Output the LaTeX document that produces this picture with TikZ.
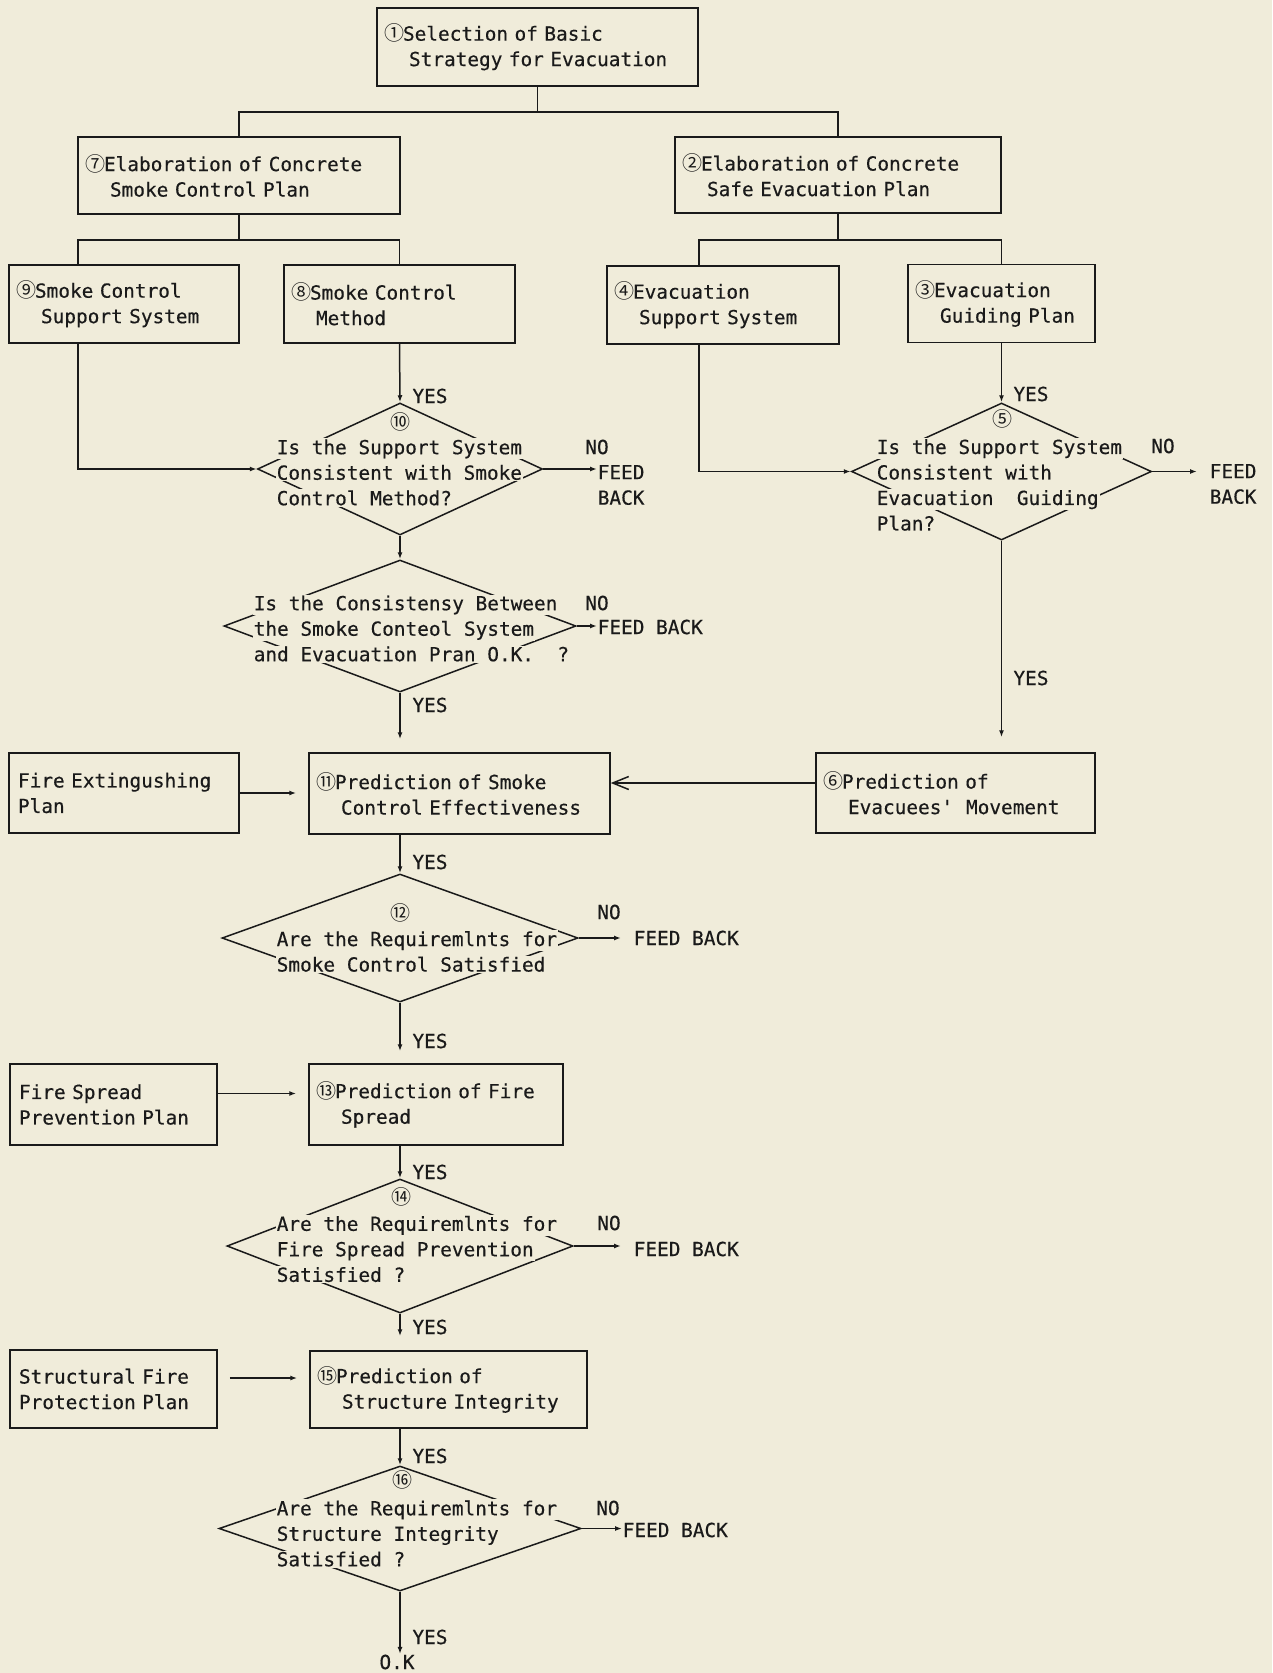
\documentclass[tikz,border=0pt]{standalone}
\usepackage{fontspec}
\setmonofont[FakeBold=0.4]{DejaVu Sans Mono}
\newfontfamily\circfont{Noto Sans CJK JP}
\usepackage{tikz}
\usetikzlibrary{shapes.geometric, arrows.meta}
\definecolor{Paper}{HTML}{F0ECDA}
\definecolor{Ink}{HTML}{1A1A1A}
\newcommand{\circnum}[1]{\makebox[17pt][c]{\circfont\fontsize{20pt}{20pt}\selectfont #1}}
\newcommand{\twosp}{\hspace*{23pt}}
\newcommand{\qline}[1]{{\fboxsep=1pt\colorbox{Paper}{#1}}}

\begin{document}
\begin{tikzpicture}[x=1pt, y=-1pt, line width=1.5pt, color=Ink,
    every node/.style={font=\ttfamily\fontsize{19.4pt}{25.5pt}\selectfont},
    box/.style={draw, rectangle, align=left, inner xsep=9pt, inner ysep=0pt},
    dia/.style={draw, diamond, inner sep=0pt},
    qtext/.style={anchor=west, align=left, inner sep=0pt},
    circ/.style={font=\circfont\fontsize{20pt}{20pt}\selectfont, inner sep=0pt},
    lbl/.style={inner sep=0pt},
    arr/.style={-{Latex[length=7pt,width=5pt]}},
    back/.style={-{Straight Barb[length=16pt,width=13pt]}}]

    % Paper
    \fill[Paper] (0,0) rectangle (1272,1673);
    \useasboundingbox (0,0) rectangle (1272,1673);

    % Planning boxes
    \node[box, text width=303pt, minimum height=78pt] (b1) at (537.5,47) {\circnum{①}Selection of Basic\\\twosp Strategy for Evacuation};
    \node[box, text width=304pt, minimum height=77pt] (b7) at (239,175.5) {\circnum{⑦}Elaboration of Concrete\\\twosp Smoke Control Plan};
    \node[box, text width=308pt, minimum height=76pt] (b2) at (838,175) {\circnum{②}Elaboration of Concrete\\\twosp Safe Evacuation Plan};
    \node[box, text width=212pt, minimum height=78pt] (b9) at (124,304) {\circnum{⑨}Smoke Control\\\twosp Support System};
    \node[box, text width=213pt, minimum height=78pt] (b8) at (399.5,304) {\circnum{⑧}Smoke Control\\\twosp Method};
    \node[box, text width=214pt, minimum height=78pt] (b4) at (723,305) {\circnum{④}Evacuation\\\twosp Support System};
    \node[box, text width=169pt, minimum height=78pt] (b3) at (1001.5,303.5) {\circnum{③}Evacuation\\\twosp Guiding Plan};

    % Tree lines
    \coordinate (j1) at (537.5,112);
    \coordinate (j7) at (239,240);
    \coordinate (j2) at (838,240);
    \draw (b1.south) -- (j1);
    \draw (b7.north) |- (j1) -| (b2.north);
    \draw (b7.south) -- (j7);
    \draw ([xshift=-46pt]b9.north) |- (j7) -| (b8.north);
    \draw (b2.south) -- (j2);
    \draw ([xshift=-24pt]b4.north) |- (j2) -| (b3.north);

    % Consistency checks
    \node[dia, minimum width=285pt, minimum height=132pt] (d10) at (400,469) {};
    \node[dia, minimum width=352pt, minimum height=132pt] (dcs) at (400,626) {};
    \node[dia, minimum width=300pt, minimum height=137pt] (d5) at (1001.5,471.5) {};
    \node[qtext] (q10) at (275,472.5) {\qline{Is the Support System}\\\qline{Consistent with Smoke}\\\qline{Control Method?}};
    \node[qtext] (qcs) at (252,628.5) {\qline{Is the Consistensy Between}\\\qline{the Smoke Conteol System}\\\qline{and Evacuation Pran O.K.~~?}};
    \node[qtext] (q5) at (875,485) {\qline{Is the Support System}\\\qline{Consistent with}\\\qline{Evacuation~~Guiding}\\\qline{Plan?}};
    \node[circ] (n10) at (400,422) {⑩};
    \node[circ] (n5) at (1002,419) {⑤};

    \draw[arr] (b8.south) -- (d10.north);
    \draw[arr] ([xshift=-46pt]b9.south) |- (d10.west);
    \draw[arr] (b3.south) -- (d5.north);
    \draw[arr] ([xshift=-24pt]b4.south) |- (d5.west);
    \draw[arr] (d10.south) -- (dcs.north);

    % Predictions
    \node[box, text width=212pt, minimum height=80pt] (bfe) at (124,793) {Fire Extingushing\\Plan};
    \node[box, text width=283pt, minimum height=81pt] (b11) at (459.5,793.5) {\circnum{⑪}Prediction of Smoke\\\twosp Control Effectiveness};
    \node[box, text width=261pt, minimum height=80pt] (b6) at (955.5,793) {\circnum{⑥}Prediction of\\\twosp Evacuees'~~Movement};
    \node[box, text width=189pt, minimum height=81pt] (bfs) at (113.5,1104.5) {Fire Spread\\Prevention Plan};
    \node[box, text width=236pt, minimum height=81pt] (b13) at (436,1104.5) {\circnum{⑬}Prediction of Fire\\\twosp Spread};
    \node[box, text width=189pt, minimum height=78pt] (bsf) at (113.5,1389) {Structural Fire\\Protection Plan};
    \node[box, text width=259pt, minimum height=77pt] (b15) at (448.5,1389.5) {\circnum{⑮}Prediction of\\\twosp Structure Integrity};

    % Requirement checks
    \node[dia, minimum width=356pt, minimum height=128pt] (d12) at (400,938) {};
    \node[dia, minimum width=346pt, minimum height=134pt] (d14) at (400,1246) {};
    \node[dia, minimum width=362pt, minimum height=125pt] (d16) at (400,1528.5) {};
    \node[qtext] (q12) at (275,951.5) {\qline{Are the Requiremlnts for}\\\qline{Smoke Control Satisfied}};
    \node[qtext] (q14) at (275,1249) {\qline{Are the Requiremlnts for}\\\qline{Fire Spread Prevention}\\\qline{Satisfied ?}};
    \node[qtext] (q16) at (275,1533.5) {\qline{Are the Requiremlnts for}\\\qline{Structure Integrity}\\\qline{Satisfied ?}};
    \node[circ] (n12) at (400,913) {⑫};
    \node[circ] (n14) at (401,1197) {⑭};
    \node[circ] (n16) at (402,1480) {⑯};

    % YES / NO labels
    \node[lbl] (y10) at (430,396) {YES};
    \node[lbl] (y5) at (1031,394) {YES};
    \node[lbl] (ycs) at (430,705) {YES};
    \node[lbl] (y6) at (1031,678) {YES};
    \node[lbl] (y11) at (430,862) {YES};
    \node[lbl] (y12) at (430,1041) {YES};
    \node[lbl] (y13) at (430,1172) {YES};
    \node[lbl] (y14) at (430,1327) {YES};
    \node[lbl] (y15) at (430,1456) {YES};
    \node[lbl] (y16) at (430,1637) {YES};
    \node[lbl] (no10) at (597,447) {NO};
    \node[lbl] (nocs) at (597,603) {NO};
    \node[lbl] (no5) at (1163,446) {NO};
    \node[lbl] (no12) at (609,912) {NO};
    \node[lbl] (no14) at (609,1223) {NO};
    \node[lbl] (no16) at (608,1508) {NO};
    \node[lbl, anchor=west, align=left] (fb10) at (597,485) {FEED\\BACK};
    \node[lbl, anchor=west] (fbcs) at (597,627) {FEED BACK};
    \node[lbl, anchor=west, align=left] (fb5) at (1209,484) {FEED\\BACK};
    \node[lbl, anchor=west] (fb12) at (633,938) {FEED BACK};
    \node[lbl, anchor=west] (fb14) at (633,1249) {FEED BACK};
    \node[lbl, anchor=west] (fb16) at (622,1530) {FEED BACK};
    \node[lbl] (ok) at (397,1662) {O.K};

    % Flow
    \draw[arr] (d10.east) -- (d10.east -| fb10.west);
    \draw[arr] (dcs.east) -- (dcs.east -| fbcs.west);
    \draw[arr, shorten >=12pt] (d5.east) -- (d5.east -| fb5.west);
    \draw[arr, shorten >=13pt] (dcs.south) -- (dcs.south |- b11.north);
    \draw[arr, shorten >=15pt] (d5.south) -- (d5.south |- b6.north);
    \draw[arr, shorten >=12pt] (bfe.east) -- (bfe.east -| b11.west);
    \draw[back] ([yshift=10pt]b6.west) -- ([yshift=10pt]b6.west -| b11.east);
    \draw[arr] (b11.south -| d12.north) -- (d12.north);
    \draw[arr, shorten >=12pt] (d12.east) -- (d12.east -| fb12.west);
    \draw[arr, shorten >=12pt] (d12.south) -- (d12.south |- b13.north);
    \draw[arr, shorten >=12pt] ([yshift=11pt]bfs.east) -- ([yshift=11pt]bfs.east -| b13.west);
    \draw[arr] (b13.south -| d14.north) -- (d14.north);
    \draw[arr, shorten >=12pt] (d14.east) -- (d14.east -| fb14.west);
    \draw[arr, shorten >=14pt] (d14.south) -- (d14.south |- b15.north);
    \draw[arr, shorten <=12pt, shorten >=12pt] ([yshift=11pt]bsf.east) -- ([yshift=11pt]bsf.east -| b15.west);
    \draw[arr] (b15.south -| d16.north) -- (d16.north);
    \draw[arr] (d16.east) -- (d16.east -| fb16.west);
    \draw[arr] (d16.south) -- (d16.south |- ok.north);
\end{tikzpicture}
\end{document}
